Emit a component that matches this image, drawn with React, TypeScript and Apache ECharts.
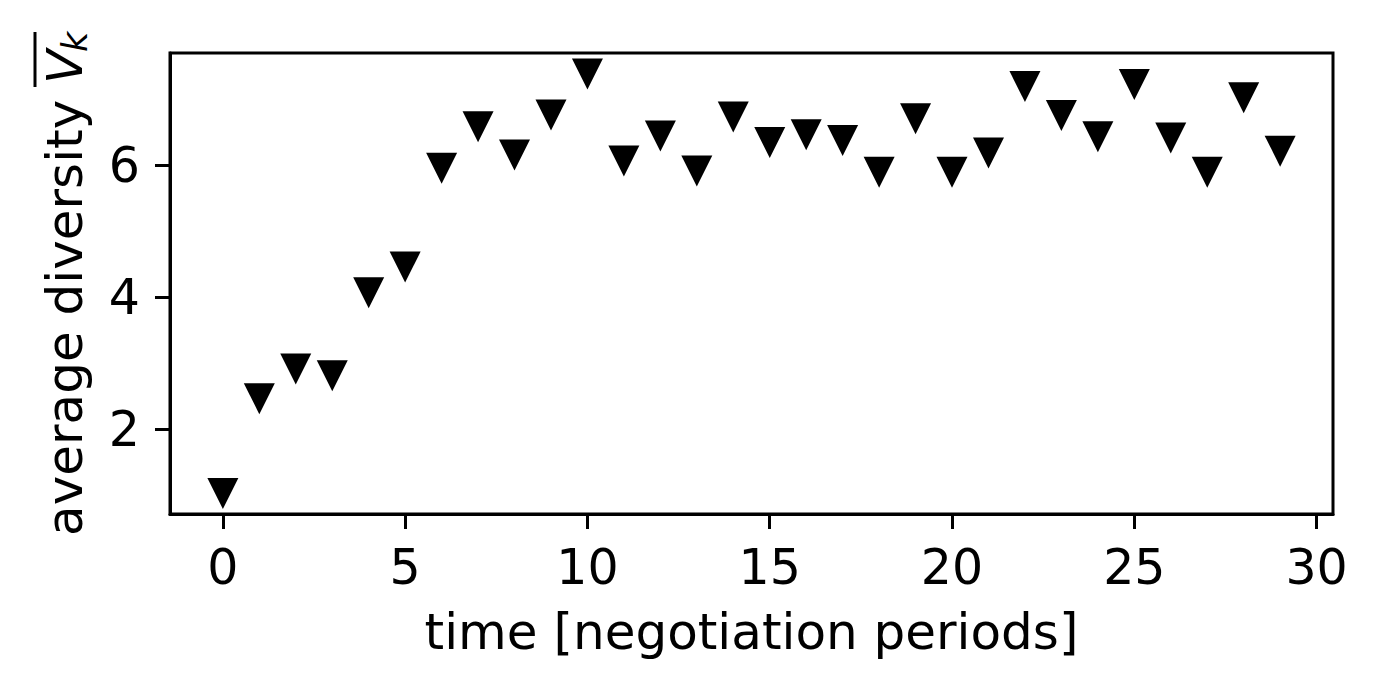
import React, { useEffect, useRef } from "react";
import * as echarts from "echarts";

const periods: number[] = Array.from({ length: 30 }, (_, i) => i);
const diversity: number[] = [
  1.02, 2.46, 2.91, 2.81, 4.07, 4.46, 5.96, 6.59, 6.16, 6.77,
  7.39, 6.07, 6.45, 5.92, 6.74, 6.35, 6.47, 6.38, 5.9, 6.71,
  5.9, 6.19, 7.2, 6.76, 6.44, 7.23, 6.42, 5.9, 7.03, 6.22,
];
const xTicks: number[] = [0, 5, 10, 15, 20, 25, 30];
const yTicks: number[] = [2, 4, 6];
const xLabel = "time [negotiation periods]";
const yLabel = "average diversity ";

const FONT = '"DejaVu Sans", "Liberation Sans", sans-serif';

export default function App() {
  const ref = useRef<HTMLDivElement>(null);
  useEffect(() => {
    if (!ref.current) return;
    const chart = echarts.init(ref.current, undefined, { renderer: "svg" });
    const data = periods.map((p, i) => [p, diversity[i]]);
    chart.setOption({
      animation: false,
      backgroundColor: "#fff",
      grid: {
        left: 170,
        right: 44,
        top: 53,
        bottom: 173,
        show: true,
        borderColor: "#000",
        borderWidth: 3,
        backgroundColor: "transparent",
      },
      xAxis: {
        type: "value",
        min: -1.45,
        max: 30.45,
        splitLine: { show: false },
        axisLine: { show: true, onZero: false, lineStyle: { color: "#000", width: 3 } },
        axisTick: {
          show: true,
          inside: false,
          length: 15,
          lineStyle: { color: "#000", width: 3 },
          customValues: xTicks,
        },
        axisLabel: {
          show: true,
          customValues: xTicks,
          margin: 29,
          color: "#000",
          fontSize: 49,
          fontFamily: FONT,
        },
      },
      yAxis: {
        type: "value",
        min: 0.71,
        max: 7.71,
        splitLine: { show: false },
        axisLine: { show: true, onZero: false, lineStyle: { color: "#000", width: 3 } },
        axisTick: {
          show: true,
          inside: false,
          length: 15,
          lineStyle: { color: "#000", width: 3 },
          customValues: yTicks,
        },
        axisLabel: {
          show: true,
          customValues: yTicks,
          margin: 30,
          color: "#000",
          fontSize: 49,
          fontFamily: FONT,
        },
      },
      graphic: [
        {
          type: "text",
          x: 751.5,
          y: 632,
          style: {
            text: xLabel,
            font: `50px ${FONT}`,
            fill: "#000",
            align: "center",
            verticalAlign: "middle",
          },
        },
        {
          type: "group",
          x: 65,
          y: 536,
          rotation: Math.PI / 2,
          children: [
            {
              type: "text",
              x: 0,
              y: 0,
              style: {
                text: yLabel,
                font: `50px ${FONT}`,
                fill: "#000",
                align: "left",
                verticalAlign: "middle",
              },
            },
            {
              type: "text",
              x: 452,
              y: 0,
              style: {
                text: "V",
                font: `italic 50px ${FONT}`,
                fill: "#000",
                align: "left",
                verticalAlign: "middle",
              },
            },
            {
              type: "text",
              x: 484,
              y: 10,
              style: {
                text: "k",
                font: `italic 35px ${FONT}`,
                fill: "#000",
                align: "left",
                verticalAlign: "middle",
              },
            },
            {
              type: "line",
              shape: { x1: 449, y1: -30, x2: 504, y2: -30 },
              style: { stroke: "#000", lineWidth: 3 },
            },
          ],
        },
      ],
      series: [
        {
          type: "scatter",
          data,
          symbol: "triangle",
          symbolRotate: 180,
          symbolSize: 31,
          itemStyle: { color: "#000", opacity: 1 },
          emphasis: { disabled: true },
        },
      ],
    });
    return () => chart.dispose();
  }, []);
  return (
    <div
      ref={ref}
      style={{ position: "absolute", left: 0, top: 0, width: 1377, height: 687, background: "#fff" }}
    />
  );
}
